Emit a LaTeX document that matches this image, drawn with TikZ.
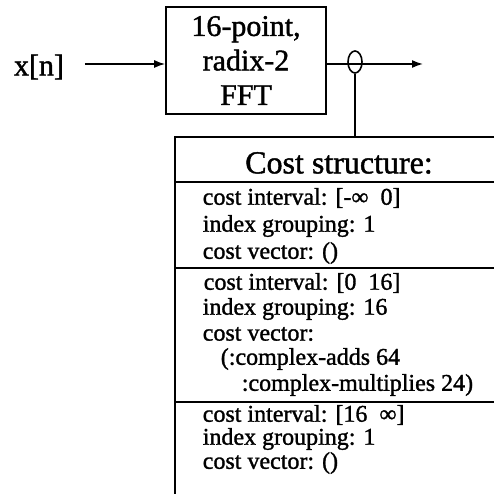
\documentclass[tikz,border=0pt]{standalone}
\usepackage{fontspec}
\setmainfont[FakeBold=1.3]{Liberation Serif}
\usetikzlibrary{shapes.geometric, arrows.meta}

\begin{document}
\begin{tikzpicture}[x=1pt, y=-1pt, >={Latex[length=11pt,width=8pt]}, line width=1.6pt,
    bigtext/.style={font=\fontsize{30}{34.5}\selectfont},
    costtext/.style={anchor=west, inner sep=0pt, font=\fontsize{24}{26}\selectfont}]
        \useasboundingbox (0,0) rectangle (494,494);
        % ==== FFT BLOCK ====
        \node[draw, bigtext, minimum width=160pt, minimum height=107pt, align=center, inner sep=1pt] (fft) at (246,60.5) {16-point,\\radix-2\\FFT};
        \node[bigtext, inner sep=0pt] (xn) at (39,67) {x[n]};
        \coordinate (out) at (423,64);
        \draw[->] (xn.east) ++(20,-3) -- (fft.west |- out);
        \draw[->] (fft.east |- out) -- (out);
        % ==== TAP ====
        \node[draw, ellipse, minimum width=14pt, minimum height=22pt, inner sep=0pt] (tap) at (355,62) {};
        \coordinate (costtop) at (175,137);
        \draw (tap.south) -- (tap.south |- costtop);
        % ==== COST STRUCTURE ====
        \draw (494,137) -- (costtop) -- (175,494);
        \draw (175,182) -- (494,182);
        \draw (175,268) -- (494,268);
        \draw (175,402) -- (494,402);
        \node[font=\fontsize{32}{36}\selectfont, inner sep=0pt] (title) at (339,163) {Cost structure:};
        \node[costtext] (ci1) at (202,198) {cost interval: [-∞\ \ 0]};
        \node[costtext] (ig1) at (202,226) {index grouping: 1};
        \node[costtext] (cv1) at (202,253) {cost vector: ()};
        \node[costtext] (ci2) at (203,283) {cost interval: [0\ \ 16]};
        \node[costtext] (ig2) at (202,309) {index grouping: 16};
        \node[costtext] (cv2) at (202,334) {cost vector:};
        \node[costtext] (adds) at (220,359) {(:complex-adds 64};
        \node[costtext] (mults) at (241,385) {:complex-multiplies 24)};
        \node[costtext] (ci3) at (202,415) {cost interval: [16\ \ ∞]};
        \node[costtext] (ig3) at (202,439) {index grouping: 1};
        \node[costtext] (cv3) at (202,463) {cost vector: ()};
\end{tikzpicture}
\end{document}
